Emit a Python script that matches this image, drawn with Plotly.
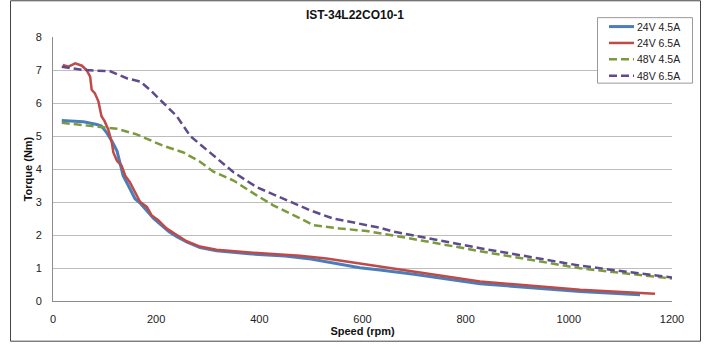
import plotly.graph_objects as go

# ---- data ----
speed_24v_45a = [17, 59, 85, 94, 104, 114, 124, 130, 136, 146, 159, 170, 182, 195, 210, 225, 240, 260, 285, 317, 380, 450, 500, 550, 595, 634, 700, 828, 900, 1022, 1138]
torque_24v_45a = [5.47, 5.43, 5.35, 5.3, 5.1, 4.85, 4.55, 4.2, 3.8, 3.5, 3.1, 2.95, 2.75, 2.5, 2.3, 2.1, 1.95, 1.78, 1.62, 1.52, 1.43, 1.36, 1.27, 1.13, 1.01, 0.94, 0.81, 0.52, 0.43, 0.29, 0.19]

speed_24v_65a = [19, 30, 43, 56, 65, 72, 75, 81, 88, 94, 100, 107, 114, 117, 124, 133, 140, 149, 159, 169, 182, 191, 204, 220, 240, 259, 285, 317, 382, 479, 530, 595, 634, 828, 1022, 1167]
torque_24v_65a = [7.15, 7.1, 7.2, 7.13, 7.0, 6.8, 6.4, 6.3, 6.05, 5.6, 5.45, 5.2, 4.8, 4.5, 4.25, 4.1, 3.8, 3.6, 3.3, 3.0, 2.85, 2.6, 2.45, 2.2, 2.0, 1.81, 1.65, 1.55, 1.47, 1.37, 1.29, 1.14, 1.04, 0.59, 0.34, 0.22]

speed_48v_45a = [17, 85, 124, 162, 214, 253, 285, 311, 350, 395, 427, 473, 505, 556, 608, 673, 828, 1022, 1200]
torque_48v_45a = [5.4, 5.3, 5.22, 5.05, 4.7, 4.5, 4.22, 3.92, 3.65, 3.2, 2.9, 2.55, 2.3, 2.2, 2.12, 1.95, 1.51, 0.99, 0.68]

speed_48v_65a = [17, 59, 111, 143, 169, 188, 214, 240, 266, 285, 311, 350, 395, 447, 498, 543, 595, 634, 660, 828, 1022, 1200]
torque_48v_65a = [7.1, 7.0, 6.96, 6.75, 6.65, 6.4, 6.0, 5.6, 5.0, 4.75, 4.4, 3.9, 3.45, 3.1, 2.75, 2.5, 2.35, 2.22, 2.1, 1.6, 1.07, 0.71]

series_names = ["24V 4.5A", "24V 6.5A", "48V 4.5A", "48V 6.5A"]
x_ticks = [0, 200, 400, 600, 800, 1000, 1200]
y_ticks = [0, 1, 2, 3, 4, 5, 6, 7, 8]

FONT = "Liberation Sans, Arial, sans-serif"

styles = [
    dict(color="#4A7EBB", width=3),
    dict(color="#BE4B48", width=2.5),
    dict(color="#7A9A3C", width=2.5, dash="8px,4px"),
    dict(color="#5F4B8B", width=2.5, dash="8px,4px"),
]
xs = [speed_24v_45a, speed_24v_65a, speed_48v_45a, speed_48v_65a]
ys = [torque_24v_45a, torque_24v_65a, torque_48v_45a, torque_48v_65a]

fig = go.Figure()
for name, x, y, st in zip(series_names, xs, ys, styles):
    fig.add_trace(go.Scatter(x=x, y=y, mode="lines", name=name, line=st, showlegend=False))

L, R, T, B = 53, 38, 37, 44
W, H = 710, 347
pw, ph = W - L - R, H - T - B

def px_x(x):
    return (x - L) / pw

def px_y(y):
    return (H - B - y) / ph

fig.update_layout(
    width=W, height=H,
    margin=dict(l=L, r=R, t=T, b=B, pad=0),
    paper_bgcolor="white", plot_bgcolor="white",
    font=dict(family=FONT, size=11, color="#222222"),
    title=dict(text="<b>IST-34L22CO10-1</b>", x=355 / W, xref="container", xanchor="center",
               y=1 - 15 / H, yref="container", yanchor="middle",
               font=dict(family=FONT, size=12, color="#111111")),
    showlegend=False,
    xaxis=dict(range=[0, 1200], tickvals=x_ticks, showgrid=False, zeroline=False,
               showline=True, linecolor="#8C8C8C", linewidth=1,
               ticks="", ticklabelstandoff=8,
               title=dict(text="<b>Speed (rpm)</b>", standoff=2,
                          font=dict(family=FONT, size=11, color="#111111"))),
    yaxis=dict(range=[0, 8], tickvals=y_ticks, showgrid=True, gridcolor="#BDBDBD", gridwidth=1,
               zeroline=False, showline=True, linecolor="#8C8C8C", linewidth=1,
               ticks="", ticklabelstandoff=8,
               title=dict(text="<b>Torque (Nm)</b>", standoff=0,
                          font=dict(family=FONT, size=11, color="#111111"))),
)

# legend (drawn as a box with sample lines and labels)
fig.add_shape(type="rect", xref="paper", yref="paper",
              x0=px_x(597.5), x1=px_x(692.5), y0=px_y(83.5), y1=px_y(17.5),
              line=dict(color="#9A9A9A", width=1), fillcolor="white", layer="above")
row_y = [26.5, 43, 59.5, 76]
for name, st, ry in zip(series_names, styles, row_y):
    fig.add_shape(type="line", xref="paper", yref="paper",
                  x0=px_x(609), x1=px_x(634), y0=px_y(ry), y1=px_y(ry),
                  line=st, layer="above")
    fig.add_annotation(text=name, xref="paper", yref="paper", x=px_x(635), y=px_y(ry),
                       xanchor="left", yanchor="middle", showarrow=False,
                       font=dict(family=FONT, size=10.5, color="#222222"))

# outer chart frame
fig.add_shape(type="rect", xref="paper", yref="paper",
              x0=px_x(10.5), x1=px_x(700.5), y0=px_y(343.5), y1=px_y(0.5),
              line=dict(color="#444444", width=1), fillcolor="rgba(0,0,0,0)", layer="above")

fig.write_html("out.html")
